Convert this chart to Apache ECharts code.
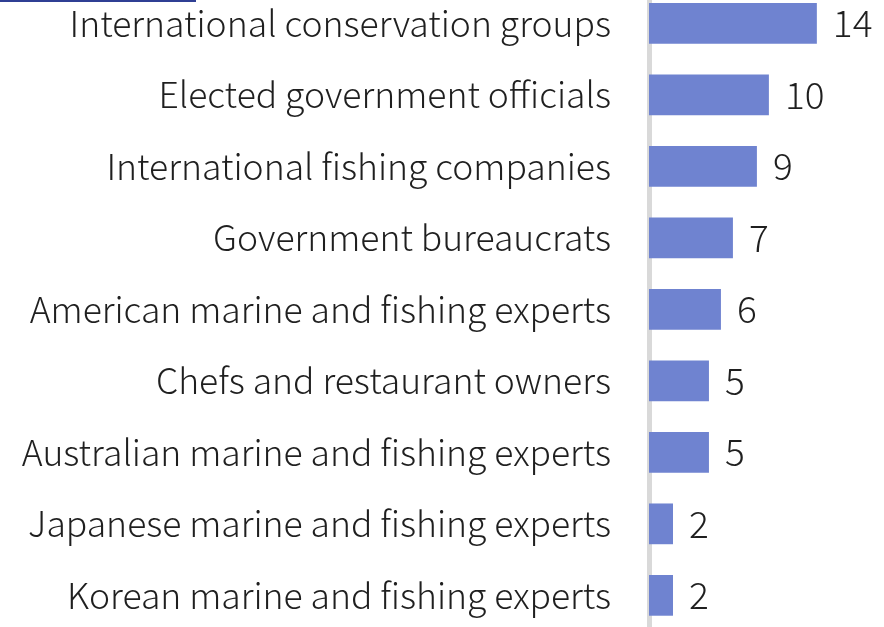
<!DOCTYPE html>
<html>
<head>
<meta charset="utf-8">
<script src="https://cdn.jsdelivr.net/npm/echarts@6/dist/echarts.min.js"></script>
<style>
  html, body { margin: 0; padding: 0; background: #ffffff; }
  #chart { width: 884px; height: 627px; }
</style>
</head>
<body>
<div id="chart"></div>
<script>
// Groups listed top to bottom
const categories = [
  'International conservation groups',
  'Elected government officials',
  'International fishing companies',
  'Government bureaucrats',
  'American marine and fishing experts',
  'Chefs and restaurant owners',
  'Australian marine and fishing experts',
  'Japanese marine and fishing experts',
  'Korean marine and fishing experts'
];
const counts = [14, 10, 9, 7, 6, 5, 5, 2, 2];

const FONT = '"Noto Sans CJK JP", "Noto Sans", sans-serif';

const chart = echarts.init(document.getElementById('chart'), null, { renderer: 'canvas' });
chart.setOption({
  animation: false,
  backgroundColor: '#ffffff',
  grid: {
    left: 649, right: 0, top: -12.4, bottom: -4.1,
    containLabel: false,
    outerBoundsMode: 'none'
  },
  xAxis: {
    type: 'value',
    min: 0,
    max: 19.6,
    show: false
  },
  yAxis: {
    type: 'category',
    data: categories,
    inverse: true,
    offset: 3,
    axisLine: { show: true, lineStyle: { color: '#d9d9d9', width: 5 } },
    axisTick: { show: false },
    axisLabel: {
      margin: 35,
      color: '#1f1f1f',
      fontFamily: FONT,
      fontWeight: 300,
      fontSize: 35.5
    }
  },
  series: [{
    type: 'bar',
    data: counts,
    barCategoryGap: '43%',
    itemStyle: { color: '#6f83d0' },
    label: {
      show: true,
      position: 'right',
      distance: 16,
      color: '#1f1f1f',
      fontFamily: FONT,
      fontWeight: 300,
      fontSize: 37
    }
  }],
  graphic: [{
    type: 'rect',
    shape: { x: -2, y: -20, width: 197, height: 21 },
    style: { fill: 'none', stroke: '#2f3f94', lineWidth: 2 }
  }]
});
</script>
</body>
</html>
